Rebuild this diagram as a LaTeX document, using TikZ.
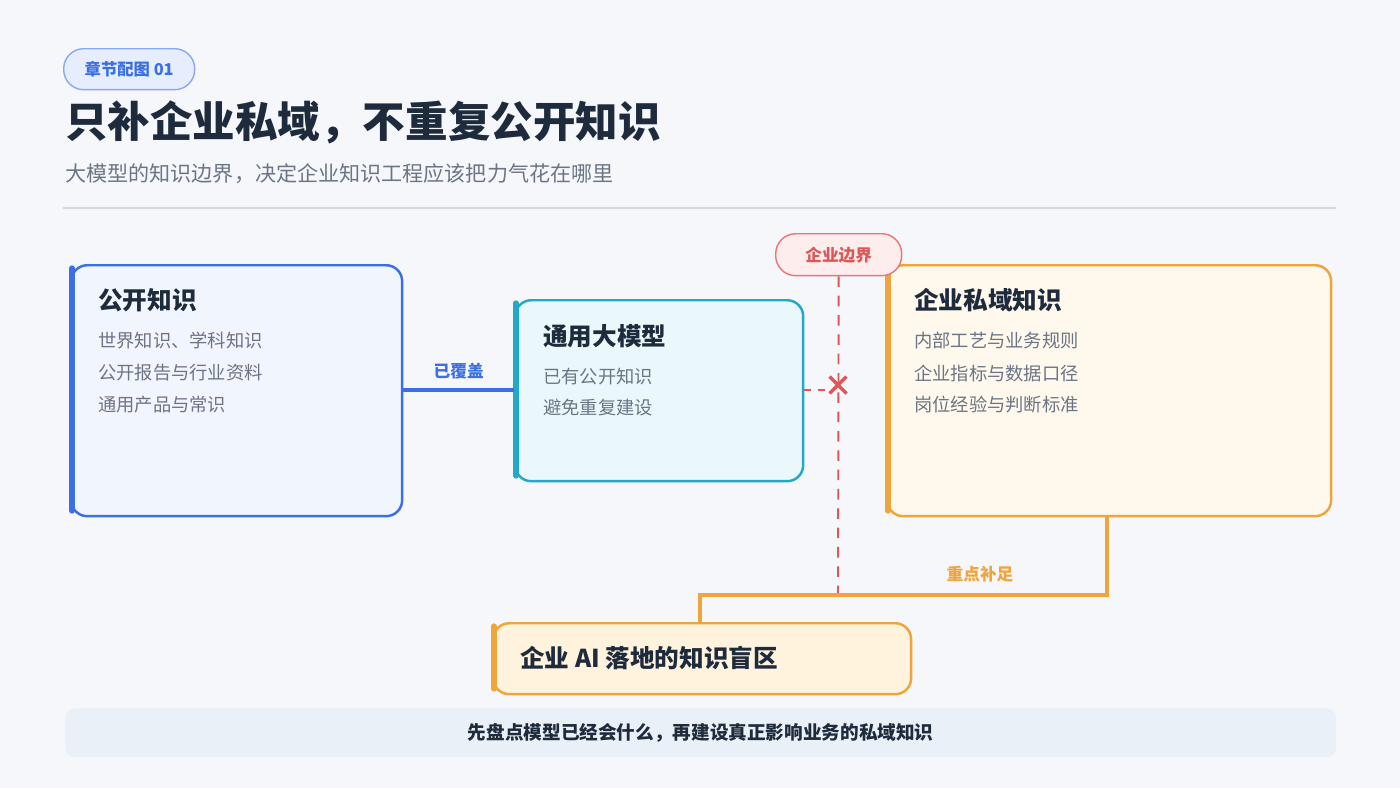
\documentclass[tikz,border=0pt]{standalone}
\usepackage{fontspec}
\setmainfont{Noto Sans CJK SC}
\usetikzlibrary{positioning}
\definecolor{bgc}{HTML}{F5F7FB}
\definecolor{navy}{HTML}{1E2B3C}
\definecolor{graytxt}{HTML}{6B7585}
\definecolor{pubc}{HTML}{3B6FE6}
\definecolor{pubf}{HTML}{F1F5FE}
\definecolor{llmc}{HTML}{22A9C9}
\definecolor{llmf}{HTML}{EBF8FB}
\definecolor{privc}{HTML}{EFA43C}
\definecolor{privf}{HTML}{FFF8EC}
\definecolor{gapf}{HTML}{FFF3DE}
\definecolor{edgec}{HTML}{E05555}
\definecolor{edgef}{HTML}{FDEDED}
\definecolor{tagf}{HTML}{E6EEFD}
\definecolor{bannerf}{HTML}{EAF0F7}

\begin{document}
\begin{tikzpicture}[
        x=0.02cm, y=-0.02cm,
        card/.style={draw, line width=1.4pt, rounded corners=0.32cm, anchor=north west},
        card_title/.style={anchor=west, inner sep=0, font=\fontsize{14}{16}\selectfont\bfseries, text=navy},
        card_item/.style={anchor=west, inner sep=0, font=\fontsize{10.4}{12}\selectfont, text=graytxt},
        link_label/.style={font=\fontsize{9.5}{11}\selectfont\bfseries},
        pill/.style={draw, line width=0.8pt, rounded corners=0.4cm, anchor=north west}
    ]
    % --- Background ---
    \fill[bgc] (0,0) rectangle (1400,788);
    \useasboundingbox (0,0) rectangle (1400,788);

    % --- Header ---
    \node[pill, draw=pubc!60, fill=tagf, minimum width=2.62cm, minimum height=0.82cm] (tag) at (63,48) {};
    \node[font=\fontsize{9.3}{11}\selectfont\bfseries, text=pubc] at (tag) {章节配图 01};
    \node[anchor=west, font=\fontsize{24.2}{28}\selectfont\bfseries, text=navy, inner sep=0] (title) at (65,122) {只补企业私域，不重复公开知识};
    \node[anchor=west, font=\fontsize{12}{14}\selectfont, text=graytxt, inner sep=0] (subtitle) at (65,174) {大模型的知识边界，决定企业知识工程应该把力气花在哪里};
    \draw[black!15, line width=0.6pt] (63,208) -- (1336,208);

    % --- Cards ---
    \node[card, draw=pubc, fill=pubf, minimum width=6.62cm, minimum height=5.02cm] (pub) at (70,264) {};
    \node[card, draw=llmc, fill=llmf, minimum width=5.76cm, minimum height=3.62cm] (llm) at (514,299) {};
    \node[card, draw=privc, fill=privf, minimum width=8.88cm, minimum height=5.02cm] (priv) at (886,264) {};
    \node[card, draw=privc, fill=gapf, minimum width=8.36cm, minimum height=1.42cm] (gap) at (492,622) {};

    % Left accent bars
    \draw[pubc, line width=3pt, line cap=round] (72,268) -- (72,511);
    \draw[llmc, line width=3pt, line cap=round] (516,303) -- (516,476);
    \draw[privc, line width=3pt, line cap=round] (888,268) -- (888,511);
    \draw[privc, line width=3pt, line cap=round] (494,626) -- (494,689);

    % Card texts
    \node[card_title] at (98,300) {公开知识};
    \node[card_item] at (98,341) {世界知识、学科知识};
    \node[card_item] at (98,373) {公开报告与行业资料};
    \node[card_item] at (98,405) {通用产品与常识};

    \node[card_title] at (543,336) {通用大模型};
    \node[card_item] at (543,377) {已有公开知识};
    \node[card_item] at (543,408) {避免重复建设};

    \node[card_title] at (914,300) {企业私域知识};
    \node[card_item] at (914,341) {内部工艺与业务规则};
    \node[card_item] at (914,373) {企业指标与数据口径};
    \node[card_item] at (914,405) {岗位经验与判断标准};

    \node[card_title] at (520,658) {企业 AI 落地的知识盲区};

    % --- Connectors ---
    \draw[pubc, line width=2pt] (pub.east |- 0,390) -- node[link_label, text=pubc, above=2pt] {已覆盖} (llm.west |- 0,390);

    \node[pill, draw=edgec!80, fill=edgef, minimum width=2.52cm, minimum height=0.84cm] (edge) at (775,233) {};
    \node[font=\fontsize{9.5}{11}\selectfont\bfseries, text=edgec] at (edge) {企业边界};
    \coordinate (edge_end) at (838,600);
    \draw[edgec, line width=1.1pt, dash pattern=on 6pt off 5pt] (edge.south) -- (edge_end);
    \coordinate (cross) at (838,385);
    \draw[edgec, line width=1.4pt, dash pattern=on 4pt off 4pt] (llm.east |- 0,390) -- ([xshift=-0.25cm]cross |- 0,390);
    \draw[edgec, line width=2pt] ([shift={(-0.17cm,-0.17cm)}]cross) -- ([shift={(0.17cm,0.17cm)}]cross)
        ([shift={(-0.17cm,0.17cm)}]cross) -- ([shift={(0.17cm,-0.17cm)}]cross);

    \draw[privc, line width=2pt] (priv.south -| 1107,0) -- (1107,595) -- (700,595) -- (gap.north -| 700,0);
    \node[link_label, text=privc] at (980,574) {重点补足};

    % --- Footer ---
    \node[anchor=north west, fill=bannerf, rounded corners=0.2cm, minimum width=25.42cm, minimum height=0.98cm] (banner) at (65,708) {};
    \node[font=\fontsize{10.6}{12}\selectfont\bfseries, text=navy] at (banner) {先盘点模型已经会什么，再建设真正影响业务的私域知识};
\end{tikzpicture}
\end{document}
